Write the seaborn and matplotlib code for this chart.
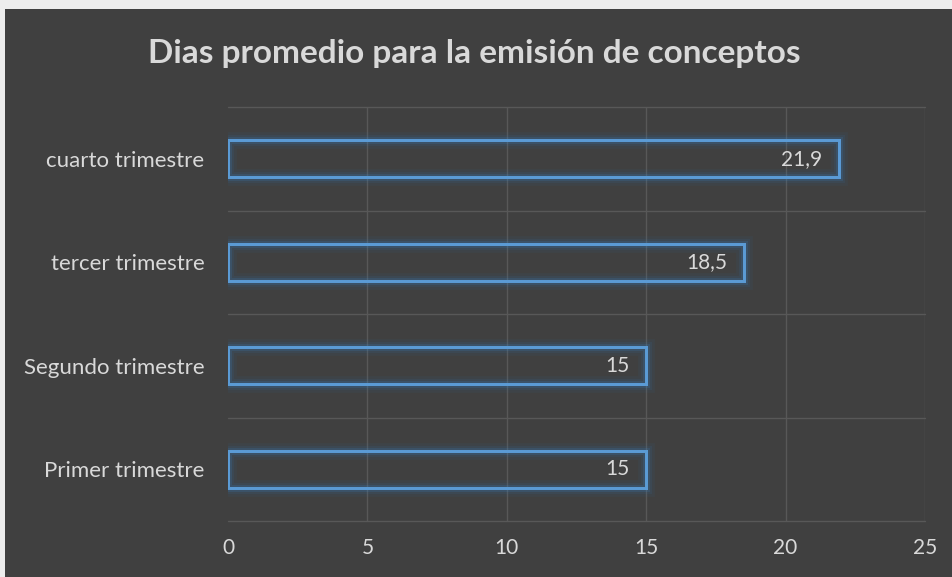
import matplotlib
matplotlib.use("Agg")
import matplotlib.pyplot as plt
import matplotlib.patheffects as pe
from matplotlib.patches import Rectangle
import seaborn as sns
import pandas as pd

# data (top to bottom as shown)
trimestres = ["cuarto trimestre", "tercer trimestre", "Segundo trimestre", "Primer trimestre"]
dias = [21.9, 18.5, 15, 15]
etiquetas = ["21,9", "18,5", "15", "15"]
x_ticks = [0, 5, 10, 15, 20, 25]

df = pd.DataFrame({"trimestre": trimestres, "dias": dias})

sns.set_style("dark")
plt.rcParams['font.family'] = ['Lato', 'DejaVu Sans']

bg = "#404040"
txt = "#D9D9D9"
grid_c = "#585858"
blue = "#5B9BD5"

fig = plt.figure(figsize=(9.52, 5.77), dpi=100, facecolor="#EDEDED")
# dark chart panel
fig.patches.append(Rectangle((5 / 952, -0.05), 1.1, 1 - 9 / 577 + 0.05,
                             transform=fig.transFigure, facecolor=bg,
                             edgecolor="none", zorder=-10))

ax = fig.add_axes([228 / 952, 1 - 521 / 577, 697 / 952, 414 / 577])
ax.set_facecolor(bg)

sns.barplot(data=df, x="dias", y="trimestre", order=trimestres, orient="h",
            ax=ax, width=0.36, facecolor="none", edgecolor=blue, linewidth=2)

glow = [pe.withStroke(linewidth=12, foreground="#2E75B6", alpha=0.07),
        pe.withStroke(linewidth=8, foreground="#2E75B6", alpha=0.10),
        pe.withStroke(linewidth=5, foreground="#3A85C8", alpha=0.18),
        pe.Normal()]
for bar in ax.patches:
    bar.set_path_effects(glow)

# value labels inside the end of each bar
for i, (v, lab) in enumerate(zip(dias, etiquetas)):
    ax.annotate(lab, xy=(v, i), xytext=(-12, 0), textcoords="offset points",
                ha="right", va="center", color=txt, fontsize=15)

ax.set_xlim(0, 25)
ax.set_ylim(3.5, -0.5)
ax.set_xticks(x_ticks)
ax.set_xticklabels([str(t) for t in x_ticks])
ax.set_yticks(range(len(trimestres)))
ax.set_yticklabels(trimestres)

ax.grid(False)
for t in x_ticks[1:]:
    ax.axvline(t, color=grid_c, linewidth=1, zorder=0)
for y in [-0.5, 0.5, 1.5, 2.5, 3.5]:
    ax.axhline(y, color=grid_c, linewidth=1, zorder=0, clip_on=False)

ax.tick_params(axis="both", which="both", length=0, colors=txt)
ax.tick_params(axis="x", pad=12, labelsize=15)
ax.tick_params(axis="y", pad=17, labelsize=16)
for s in ax.spines.values():
    s.set_visible(False)
ax.set_xlabel("")
ax.set_ylabel("")

fig.text(0.498, 1 - 53 / 577, "Dias promedio para la emisión de conceptos",
         ha="center", va="center", color=txt, fontsize=24, fontweight="bold")

fig.savefig("out.png", dpi=100, facecolor=fig.get_facecolor())
